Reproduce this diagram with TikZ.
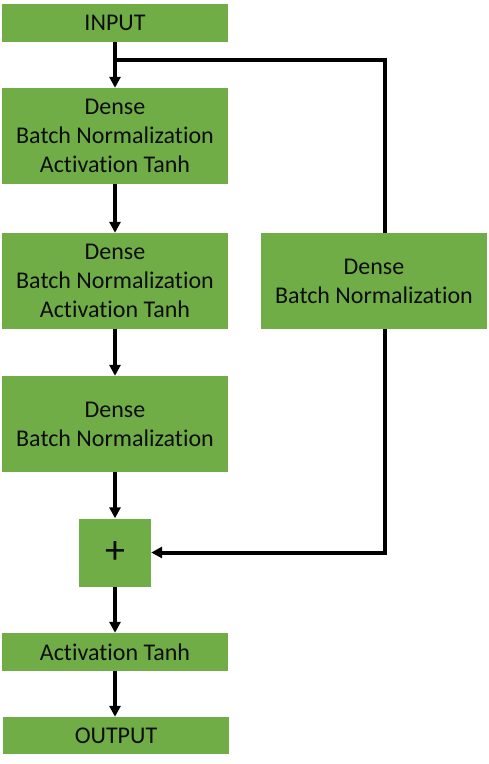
\documentclass[tikz,border=0pt]{standalone}
\usepackage{fontspec}
\setmainfont{Carlito}[Ligatures=NoCommon]
\usetikzlibrary{arrows.meta}
\definecolor{boxgreen}{HTML}{70AD47}
\definecolor{txt}{HTML}{0D0D0D}
\begin{document}
\begin{tikzpicture}[x=1pt,y=-1pt,
  blk/.style={fill=boxgreen,draw=none,minimum width=226pt,inner sep=0pt,align=center,text=txt,font=\fontsize{24}{29}\selectfont},
  conn/.style={line width=4pt,-{Triangle[width=11pt,length=11pt]}},
  wire/.style={line width=4pt}]
\useasboundingbox (0,0) rectangle (489,764);
\node[blk,minimum height=38pt] (inp) at (115,23) {INPUT};
\node[blk,minimum height=96pt] (d1) at (115,136) {Dense\\Batch Normalization\\Activation Tanh};
\node[blk,minimum height=96pt] (d2) at (115,281) {Dense\\Batch Normalization\\Activation Tanh};
\node[blk,minimum height=96pt] (d3) at (115,424) {Dense\\Batch Normalization};
\node[blk,minimum height=96pt] (r) at (374,281) {Dense\\Batch Normalization};
\node[blk,minimum width=72pt,minimum height=68pt,font=\fontsize{40}{40}\selectfont] (plus) at (115,552.5) {+};
\node[blk,minimum height=38pt] (act) at (115,652) {Activation Tanh};
\node[blk,minimum height=37pt] (out) at (116,735.5) {OUTPUT};
\coordinate (br) at (115,60);
\coordinate (c1) at (385,60);
\coordinate (c2) at (385,552.5);
\draw[conn] (inp.south) -- (d1.north);
\draw[wire] (br) -- (c1) -- (c1 |- r.north);
\draw[conn] (c1 |- r.south) -- (c2) -- (plus.east);
\draw[conn] (d1.south) -- (d2.north);
\draw[conn] (d2.south) -- (d3.north);
\draw[conn] (d3.south) -- (plus.north);
\draw[conn] (plus.south) -- (act.north);
\draw[conn] (act.south) -- (act.south |- out.north);
\end{tikzpicture}
\end{document}
